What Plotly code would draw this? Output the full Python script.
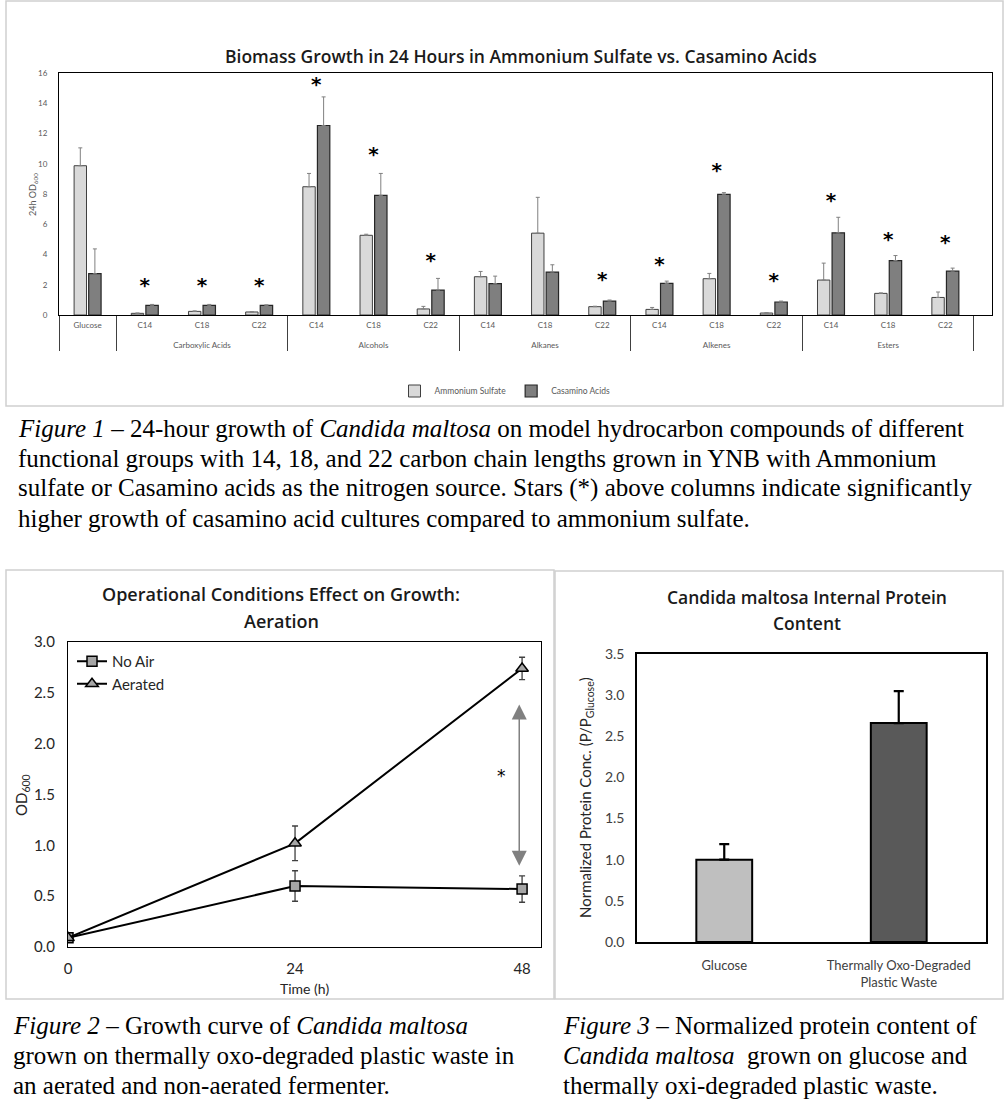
import plotly.graph_objects as go

W, H = 1006, 1113


def fx(px):
    return px / W


def fy(py):
    return 1 - py / H


# ---------------- Figure 1 data ----------------
groups = [" ", "<br>Carboxylic Acids", "<br>Carboxylic Acids", "<br>Carboxylic Acids",
          "<br>Alcohols", "<br>Alcohols", "<br>Alcohols",
          "<br>Alkanes", "<br>Alkanes", "<br>Alkanes",
          "<br>Alkenes", "<br>Alkenes", "<br>Alkenes",
          "<br>Esters", "<br>Esters", "<br>Esters"]
categories = ["Glucose", "C14", "C18", "C22",
              "C14", "C18", "C22",
              "C14", "C18", "C22",
              "C14", "C18", "C22",
              "C14", "C18", "C22"]
ammonium = [9.87, 0.11, 0.24, 0.20, 8.48, 5.27, 0.40, 2.53, 5.41, 0.55, 0.37, 2.40, 0.13, 2.31, 1.43, 1.16]
ammonium_err = [1.18, 0.02, 0.03, 0.02, 0.88, 0.07, 0.17, 0.35, 2.37, 0.03, 0.13, 0.35, 0.02, 1.12, 0.03, 0.36]
casamino = [2.73, 0.64, 0.64, 0.64, 12.53, 7.91, 1.65, 2.07, 2.84, 0.92, 2.09, 7.98, 0.86, 5.43, 3.60, 2.90]
casamino_err = [1.64, 0.06, 0.06, 0.03, 1.89, 1.45, 0.77, 0.50, 0.48, 0.07, 0.15, 0.11, 0.06, 1.03, 0.33, 0.20]
star_height = [None, 1.85, 1.85, 1.85, 15.15, 10.5, 3.5, None, None, 2.25, 3.25, 9.45, 2.15, 7.5, 4.9, 4.7]

# ---------------- Figure 2 data ----------------
time_h = [0, 24, 48]
no_air = [0.09, 0.60, 0.57]
no_air_err = [0.0, 0.15, 0.13]
aerated = [0.09, 1.02, 2.74]
aerated_err = [0.0, 0.17, 0.11]
sig_arrow_x = 47.7
sig_arrow_y = [0.80, 2.40]
sig_star = (45.8, 1.68)

# ---------------- Figure 3 data ----------------
protein_cat = ["Glucose", "Thermally Oxo-Degraded<br>Plastic Waste"]
protein = [1.0, 2.66]
protein_err = [0.19, 0.39]
protein_colors = ["#bfbfbf", "#595959"]

fig = go.Figure()

# Figure 1 bars
fig.add_trace(go.Bar(
    x=[groups, categories], y=ammonium, name="Ammonium Sulfate",
    marker=dict(color="#d9d9d9", line=dict(color="#404040", width=1)),
    error_y=dict(type="data", symmetric=False, array=ammonium_err,
                 arrayminus=[0] * len(ammonium), color="#808080", thickness=1, width=2),
    xaxis="x", yaxis="y", legend="legend"))
fig.add_trace(go.Bar(
    x=[groups, categories], y=casamino, name="Casamino Acids",
    marker=dict(color="#7f7f7f", line=dict(color="#262626", width=1.2)),
    error_y=dict(type="data", symmetric=False, array=casamino_err,
                 arrayminus=[0] * len(casamino), color="#808080", thickness=1, width=2),
    xaxis="x", yaxis="y", legend="legend"))

idx = [i for i, s in enumerate(star_height) if s is not None]
fig.add_trace(go.Scatter(
    x=[[groups[i] for i in idx], [categories[i] for i in idx]],
    y=[star_height[i] for i in idx], mode="text", text=["*"] * len(idx),
    textposition="middle center",
    textfont=dict(family="DejaVu Sans", size=20, color="black", weight="bold"),
    showlegend=False, hoverinfo="skip", xaxis="x", yaxis="y"))

# Figure 2 lines
fig.add_trace(go.Scatter(
    x=time_h, y=no_air, name="No Air", mode="lines+markers",
    line=dict(color="black", width=2),
    marker=dict(symbol="square", size=10, color="#a6a6a6", line=dict(color="black", width=1.5)),
    error_y=dict(type="data", array=no_air_err, color="#404040", thickness=1.3, width=3),
    xaxis="x2", yaxis="y2", legend="legend2"))
fig.add_trace(go.Scatter(
    x=time_h, y=aerated, name="Aerated", mode="lines+markers",
    line=dict(color="black", width=2),
    marker=dict(symbol="triangle-up", size=11, color="#a6a6a6", line=dict(color="black", width=1.5)),
    error_y=dict(type="data", array=aerated_err, color="#404040", thickness=1.3, width=3),
    xaxis="x2", yaxis="y2", legend="legend2"))

# Figure 3 bars
fig.add_trace(go.Bar(
    x=protein_cat, y=protein, width=0.32,
    marker=dict(color=protein_colors, line=dict(color="black", width=2)),
    error_y=dict(type="data", symmetric=False, array=protein_err,
                 arrayminus=[0, 0], color="black", thickness=2.2, width=5),
    showlegend=False, xaxis="x3", yaxis="y3"))

small_font = dict(family="Lato", size=8, color="#595959")
tick2 = dict(family="Lato", size=15, color="#262626")
tick3 = dict(family="Lato", size=14, color="#404040")

fig.update_layout(
    template="none",
    width=W, height=H, autosize=False,
    margin=dict(l=0, r=0, t=0, b=0, autoexpand=False),
    paper_bgcolor="white", plot_bgcolor="white",
    barmode="group", bargap=0.49, bargroupgap=0.15,
    xaxis=dict(domain=[fx(59), fx(992)], anchor="y", type="multicategory",
               showline=True, linecolor="black", linewidth=1, mirror=True,
               showdividers=True, dividercolor="#404040", dividerwidth=1,
               tickfont=small_font, ticks="", showgrid=False, ticklabelstandoff=2,
               automargin=False),
    yaxis=dict(domain=[fy(315), fy(73)], anchor="x", range=[0, 16], dtick=2,
               showline=True, linecolor="black", linewidth=1, mirror=True,
               tickfont=small_font, ticks="", showgrid=False, zeroline=False,
               ticklabelstandoff=9, automargin=False),
    xaxis2=dict(domain=[fx(68), fx(541)], anchor="y2", range=[0, 50],
                tickvals=time_h, showline=True, linecolor="black", linewidth=1.3,
                mirror=True, tickfont=tick2, ticks="", showgrid=False, zeroline=False,
                ticklabelstandoff=8, automargin=False),
    yaxis2=dict(domain=[fy(947), fy(642)], anchor="x2", range=[0, 3], dtick=0.5,
                tickformat=".1f", showline=True, linecolor="black", linewidth=1.3,
                mirror=True, tickfont=tick2, ticks="", showgrid=False, zeroline=False,
                ticklabelstandoff=9, automargin=False),
    xaxis3=dict(domain=[fx(637), fx(986)], anchor="y3", type="category",
                showline=True, linecolor="black", linewidth=1.5, mirror=True,
                tickfont=dict(family="Lato", size=13, color="#404040"), ticks="",
                showgrid=False, ticklabelstandoff=11, automargin=False),
    yaxis3=dict(domain=[fy(942), fy(654)], anchor="x3", range=[0, 3.5], dtick=0.5,
                tickformat=".1f", showline=True, linecolor="black", linewidth=1.5,
                mirror=True, tickfont=tick3, ticks="", showgrid=False, zeroline=False,
                ticklabelstandoff=8, automargin=False),
    legend=dict(orientation="h", x=fx(505), xanchor="center", y=fy(391), yanchor="middle",
                font=dict(family="Lato", size=8.5, color="#595959"),
                bgcolor="rgba(0,0,0,0)", itemwidth=30),
    legend2=dict(x=fx(72), xanchor="left", y=fy(645), yanchor="top",
                 font=dict(family="Lato", size=15, color="#262626"),
                 bgcolor="rgba(0,0,0,0)", itemwidth=30, tracegroupgap=0),
)

# outer frames
frame = dict(type="rect", xref="paper", yref="paper", line=dict(color="#d0d0d0", width=1.5),
             fillcolor="rgba(0,0,0,0)", layer="below")
fig.add_shape(x0=fx(6), x1=fx(1003), y0=fy(406), y1=fy(1), **frame)
fig.add_shape(x0=fx(6), x1=fx(554), y0=fy(999), y1=fy(570), **frame)
fig.add_shape(x0=fx(555), x1=fx(1003), y0=fy(999), y1=fy(571), **frame)

title_font = dict(family="Open Sans", size=17.5, color="#1a1a1a", weight=600)
title_font2 = dict(family="Open Sans", size=18, color="#1a1a1a", weight=600)
title_font3 = dict(family="Open Sans", size=17.5, color="#1a1a1a", weight=600)


def ann(text, x, y, font, xanchor="center", angle=0):
    fig.add_annotation(text=text, x=fx(x), y=fy(y), xref="paper", yref="paper",
                       xanchor=xanchor, yanchor="middle", showarrow=False,
                       font=font, textangle=angle, borderpad=0)


ann("Biomass Growth in 24 Hours in Ammonium Sulfate vs. Casamino Acids", 521, 56, title_font)
ann("Operational Conditions Effect on Growth:", 281, 594, title_font2)
ann("Aeration", 281, 621, title_font2)
ann("Candida maltosa Internal Protein", 807, 597, title_font3)
ann("Content", 807, 623, title_font3)

ann("24h OD<sub>600</sub>", 33, 195, dict(family="Lato", size=9, color="#595959"), angle=-90)
ann("OD<sub>600</sub>", 22, 795, dict(family="Lato", size=15, color="#262626"), angle=-90)
ann("Time (h)", 304, 988, dict(family="Lato", size=14, color="#262626"))
ann("Normalized Protein Conc. (P/P<sub>Glucose</sub>)", 586, 798,
    dict(family="Lato", size=15, color="#262626"), angle=-90)

cap = dict(family="Liberation Serif", size=25, color="black")
cap1 = ["<i>Figure 1</i> – 24-hour growth of <i>Candida maltosa</i> on model hydrocarbon compounds of different",
        "functional groups with 14, 18, and 22 carbon chain lengths grown in YNB with Ammonium",
        "sulfate or Casamino acids as the nitrogen source. Stars (*) above columns indicate significantly",
        "higher growth of casamino acid cultures compared to ammonium sulfate."]
for k, line in enumerate(cap1):
    ann(line, 17, 428 + 30 * k, cap, xanchor="left")
cap2 = ["<i>Figure 2</i> – Growth curve of <i>Candida maltosa</i>",
        "grown on thermally oxo-degraded plastic waste in",
        "an aerated and non-aerated fermenter."]
for k, line in enumerate(cap2):
    ann(line, 12, 1025 + 30 * k, cap, xanchor="left")
cap3 = ["<i>Figure 3</i> – Normalized protein content of",
        "<i>Candida maltosa</i>  grown on glucose and",
        "thermally oxi-degraded plastic waste."]
for k, line in enumerate(cap3):
    ann(line, 562, 1025 + 30 * k, cap, xanchor="left")

# significance arrow and star in Figure 2
fig.add_annotation(x=sig_arrow_x, y=sig_arrow_y[0], ax=sig_arrow_x, ay=sig_arrow_y[1],
                   xref="x2", yref="y2", axref="x2", ayref="y2", text="",
                   showarrow=True, arrowhead=2, startarrowhead=2, arrowside="end+start",
                   arrowsize=2, startarrowsize=2, arrowwidth=1.5, arrowcolor="#808080")
fig.add_annotation(x=sig_star[0], y=sig_star[1], xref="x2", yref="y2", text="*",
                   showarrow=False, font=dict(family="DejaVu Sans", size=17, color="black"))

post = ("}); var s=document.createElement('style');"
        "s.innerHTML='html,body{margin:0 !important;padding:0 !important;overflow:hidden;}';"
        "document.head.appendChild(s); document.body.style.margin='0'; (function(){")
fig.write_html("out.html", config={"displayModeBar": False}, post_script=post)
